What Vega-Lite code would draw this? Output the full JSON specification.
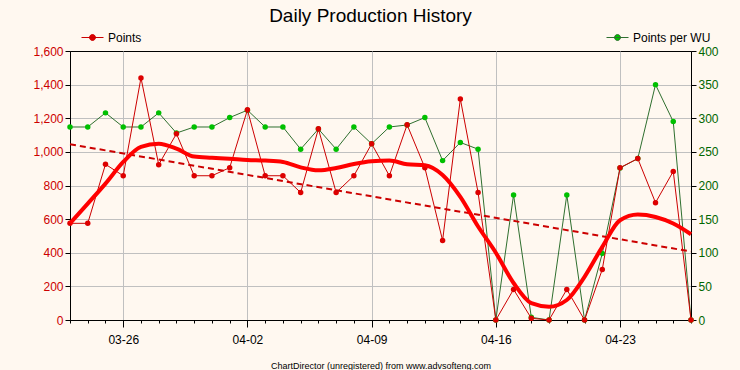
{
  "$schema": "https://vega.github.io/schema/vega-lite/v6.json",
  "width": 621,
  "height": 269,
  "autosize": {"type": "none"},
  "padding": {"left": 70, "top": 51, "right": 49, "bottom": 50},
  "background": "#fff8f0",
  "config": {
    "font": "Liberation Sans",
    "view": {"stroke": "#000000", "strokeWidth": 1},
    "axis": {"domain": true, "domainColor": "#000000", "domainWidth": 1, "tickColor": "#000000", "labelFont": "Liberation Sans", "labelFontSize": 11, "gridColor": "#c0c0c0", "gridWidth": 1}
  },
  "title": {"text": "Daily Production History", "fontSize": 19, "fontWeight": "normal", "color": "#000000", "anchor": "middle", "dx": -10, "offset": 0, "font": "Liberation Sans"},
  "data": {
    "values": [
      {"date": "2006/03/23", "points": 575, "ppwu": 287, "smooth": 575},
      {"date": "2006/03/24", "points": 575, "ppwu": 287, "smooth": 692},
      {"date": "2006/03/25", "points": 926, "ppwu": 308, "smooth": 811},
      {"date": "2006/03/26", "points": 858, "ppwu": 287, "smooth": 940},
      {"date": "2006/03/27", "points": 1440, "ppwu": 287, "smooth": 1030},
      {"date": "2006/03/28", "points": 924, "ppwu": 308, "smooth": 1048},
      {"date": "2006/03/29", "points": 1108, "ppwu": 278, "smooth": 1019},
      {"date": "2006/03/30", "points": 858, "ppwu": 287, "smooth": 972},
      {"date": "2006/03/31", "points": 858, "ppwu": 287, "smooth": 965},
      {"date": "2006/04/01", "points": 906, "ppwu": 301, "smooth": 959},
      {"date": "2006/04/02", "points": 1250, "ppwu": 312, "smooth": 952},
      {"date": "2006/04/03", "points": 858, "ppwu": 287, "smooth": 948},
      {"date": "2006/04/04", "points": 858, "ppwu": 287, "smooth": 940},
      {"date": "2006/04/05", "points": 758, "ppwu": 254, "smooth": 908},
      {"date": "2006/04/06", "points": 1137, "ppwu": 284, "smooth": 890},
      {"date": "2006/04/07", "points": 758, "ppwu": 254, "smooth": 904},
      {"date": "2006/04/08", "points": 858, "ppwu": 287, "smooth": 928},
      {"date": "2006/04/09", "points": 1048, "ppwu": 262, "smooth": 944},
      {"date": "2006/04/10", "points": 858, "ppwu": 287, "smooth": 948},
      {"date": "2006/04/11", "points": 1161, "ppwu": 290, "smooth": 926},
      {"date": "2006/04/12", "points": 906, "ppwu": 301, "smooth": 920},
      {"date": "2006/04/13", "points": 473, "ppwu": 237, "smooth": 862},
      {"date": "2006/04/14", "points": 1315, "ppwu": 264, "smooth": 732},
      {"date": "2006/04/15", "points": 758, "ppwu": 254, "smooth": 556},
      {"date": "2006/04/16", "points": 0, "ppwu": 0, "smooth": 400},
      {"date": "2006/04/17", "points": 182, "ppwu": 186, "smooth": 220},
      {"date": "2006/04/18", "points": 10, "ppwu": 4, "smooth": 100},
      {"date": "2006/04/19", "points": 0, "ppwu": 0, "smooth": 79},
      {"date": "2006/04/20", "points": 182, "ppwu": 186, "smooth": 119},
      {"date": "2006/04/21", "points": 0, "ppwu": 0, "smooth": 257},
      {"date": "2006/04/22", "points": 301, "ppwu": 99, "smooth": 435},
      {"date": "2006/04/23", "points": 906, "ppwu": 226, "smooth": 593},
      {"date": "2006/04/24", "points": 960, "ppwu": 240, "smooth": 627},
      {"date": "2006/04/25", "points": 698, "ppwu": 350, "smooth": 613},
      {"date": "2006/04/26", "points": 884, "ppwu": 295, "smooth": 574},
      {"date": "2006/04/27", "points": 0, "ppwu": 0, "smooth": 510}
    ]
  },
  "layer": [
    {
      "encoding": {
        "x": {"field": "date", "type": "temporal", "scale": {"domain": [{"year": 2006, "month": 3, "date": 23}, {"year": 2006, "month": 4, "date": 27}]},
          "axis": {"format": "%m-%d", "tickCount": {"interval": "day", "step": 1}, "labelOverlap": false, "labelExpr": "day(datum.value) == 0 ? datum.label : ''", "tickSize": {"condition": {"test": "day(datum.value) == 0", "value": 7}, "value": 3}, "grid": true, "gridOpacity": {"condition": {"test": "day(datum.value) == 0", "value": 1}, "value": 0}, "labelPadding": 7, "labelColor": "#000000", "labelFontSize": 12, "title": "ChartDirector (unregistered) from www.advsofteng.com", "titleFontSize": 9, "titleFontWeight": "normal", "titleColor": "#000000", "titlePadding": 16}},
        "y": {"field": "ppwu", "type": "quantitative", "scale": {"domain": [0, 400]},
          "axis": {"orient": "right", "values": [0, 50, 100, 150, 200, 250, 300, 350, 400], "grid": false, "labelColor": "#006600", "labelFontSize": 12, "tickSize": 5, "labelPadding": 2, "title": null}}
      },
      "layer": [
        {"mark": {"type": "line", "strokeWidth": 1}, "encoding": {"color": {"datum": "Points per WU", "type": "nominal", "scale": {"range": ["#2f6f2f"]},
          "legend": {"orient": "none", "legendX": 536, "legendY": -25, "title": null, "symbolType": "M-1,0H1M-0.27,0A0.27,0.27,0,1,0,0.27,0A0.27,0.27,0,1,0,-0.27,0Z", "symbolSize": 484, "symbolStrokeWidth": 1, "labelFontSize": 12, "labelColor": "#000000", "labelFont": "Liberation Sans", "encode": {"symbols": {"update": {"fill": {"value": "#00c000"}, "stroke": {"value": "#006600"}}}}}}}},
        {"mark": {"type": "circle", "size": 30, "color": "#00c000", "opacity": 1}}
      ]
    },
    {
      "encoding": {
        "x": {"field": "date", "type": "temporal"},
        "y": {"field": "points", "type": "quantitative", "scale": {"domain": [0, 1600]},
          "axis": {"orient": "left", "values": [0, 200, 400, 600, 800, 1000, 1200, 1400, 1600], "format": ",d", "grid": true, "gridOpacity": {"condition": {"test": "datum.value == 0 || datum.value == 1600", "value": 0}, "value": 1}, "labelColor": "#cc0000", "labelFontSize": 12, "tickSize": 5, "labelPadding": 2, "title": null}}
      },
      "layer": [
        {"mark": {"type": "line", "strokeWidth": 1}, "encoding": {"color": {"datum": "Points", "type": "nominal", "scale": {"range": ["#cc0000"]},
          "legend": {"orient": "none", "legendX": 11, "legendY": -25, "title": null, "symbolType": "M-1,0H1M-0.27,0A0.27,0.27,0,1,0,0.27,0A0.27,0.27,0,1,0,-0.27,0Z", "symbolSize": 484, "symbolStrokeWidth": 1, "labelFontSize": 12, "labelColor": "#000000", "labelFont": "Liberation Sans", "encode": {"symbols": {"update": {"fill": {"value": "#dd0000"}, "stroke": {"value": "#cc0000"}}}}}}}},
        {"mark": {"type": "circle", "size": 30, "color": "#dd0000", "opacity": 1}},
        {"transform": [{"regression": "points", "on": "date"}], "mark": {"type": "line", "strokeDash": [6, 4], "strokeWidth": 2, "color": "#cc0000"}},
        {"mark": {"type": "line", "strokeWidth": 4, "color": "#ff0000", "interpolate": "monotone"}, "encoding": {"y": {"field": "smooth", "type": "quantitative"}}}
      ]
    }
  ],
  "resolve": {"scale": {"y": "independent", "color": "independent"}}
}
